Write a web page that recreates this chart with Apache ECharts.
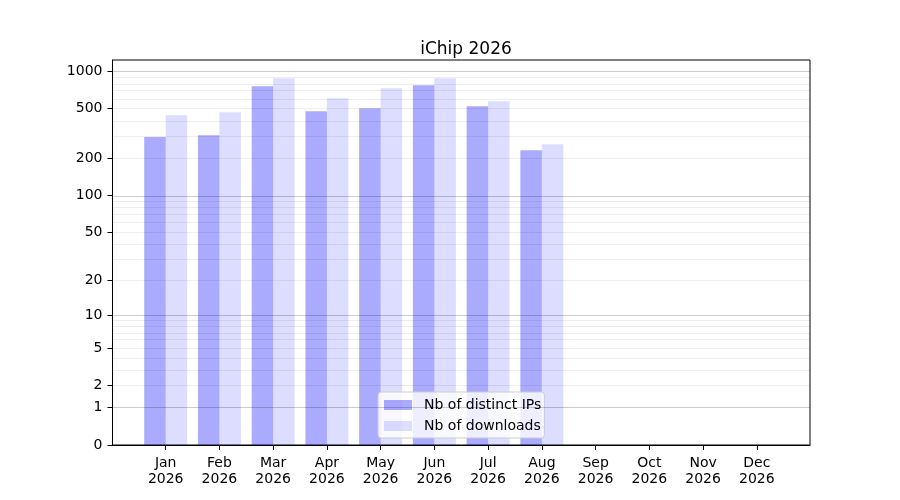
<!DOCTYPE html>
<head>
    <meta charset="utf-8">
    <title>iChip 2026</title>
    <style>
    html,body { height:100%; width:100%; margin:0; padding:0; background:#fff; }
    </style>
</head>
<body>
<div id="main" style="height:500px;width:900px;"></div>
<script src="https://cdn.jsdelivr.net/npm/echarts@6/dist/echarts.min.js"></script>
<script type="text/javascript">
    // data
    var months = ['Jan', 'Feb', 'Mar', 'Apr', 'May', 'Jun', 'Jul', 'Aug', 'Sep', 'Oct', 'Nov', 'Dec'];
    var year = '2026';
    var distinctIps = [296, 306, 758, 477, 505, 772, 524, 232, 0, 0, 0, 0];
    var downloads = [443, 468, 878, 607, 730, 878, 574, 259, 0, 0, 0, 0];
    var yTicks = [0, 1, 2, 5, 10, 20, 50, 100, 200, 500, 1000];
    var majorGrid = [1, 10, 100, 1000];
    var minorGrid = [2, 3, 4, 5, 6, 7, 8, 9, 20, 30, 40, 50, 60, 70, 80, 90,
                     200, 300, 400, 500, 600, 700, 800, 900];

    // y scale is log10(1 + x)
    function fwd(v) { return Math.log10(1 + v); }
    function inv(t) { return Math.round(Math.pow(10, t) - 1); }

    var font = 'DejaVu Sans';
    var gridLeft = 112.5, gridRight = 90, gridTop = 60, gridBottom = 55;
    var xMin = -0.99, xMax = 11.99;
    var pxPerUnit = (900 - gridLeft - gridRight) / (xMax - xMin);
    var barW = 0.4 * pxPerUnit;

    var allT = distinctIps.concat(downloads).map(fwd);
    var yMax = Math.max.apply(null, allT) * 1.05;

    var gridLines = [];
    minorGrid.forEach(function (v) {
        gridLines.push({ yAxis: fwd(v), lineStyle: { color: 'rgba(0,0,0,0.07)', width: 1, type: 'solid' } });
    });
    majorGrid.forEach(function (v) {
        gridLines.push({ yAxis: fwd(v), lineStyle: { color: 'rgba(0,0,0,0.2)', width: 1, type: 'solid' } });
    });

    var myChart = echarts.init(document.getElementById('main'));
    var options = {
        animation: false,
        backgroundColor: '#fff',
        title: {
            text: 'iChip ' + year,
            left: 461,
            textAlign: 'center',
            top: 36,
            textStyle: { fontFamily: font, fontSize: 17, fontWeight: 'normal', color: '#000' }
        },
        legend: {
            orient: 'vertical',
            left: 378,
            top: 392,
            icon: 'rect',
            itemWidth: 28,
            itemHeight: 10,
            itemGap: 7,
            padding: [6, 3, 5, 6],
            backgroundColor: 'rgba(255,255,255,0.8)',
            borderColor: '#cccccc',
            borderWidth: 1,
            borderRadius: 3,
            textStyle: { fontFamily: font, fontSize: 14, color: '#000', padding: [0, 0, 0, 7] },
            data: ['Nb of distinct IPs', 'Nb of downloads']
        },
        grid: {
            left: gridLeft, right: gridRight, top: gridTop, bottom: gridBottom,
            show: true, borderColor: '#000', borderWidth: 1, backgroundColor: 'transparent'
        },
        xAxis: {
            type: 'value',
            min: xMin,
            max: xMax,
            axisLine: { show: true, onZero: false, lineStyle: { color: '#000', width: 1 } },
            axisTick: { show: true, length: 5, lineStyle: { color: '#000' },
                        customValues: months.map(function (m, i) { return i; }) },
            axisLabel: {
                customValues: months.map(function (m, i) { return i; }),
                margin: 10,
                fontFamily: font, fontSize: 14, color: '#000', lineHeight: 16,
                formatter: function (v) { return months[Math.round(v)] + '\n' + year; }
            },
            splitLine: { show: false }
        },
        yAxis: {
            type: 'value',
            min: 0,
            max: yMax,
            axisLine: { show: true, onZero: false, lineStyle: { color: '#000', width: 1 } },
            axisTick: { show: true, length: 5, lineStyle: { color: '#000' },
                        customValues: yTicks.map(fwd) },
            axisLabel: {
                customValues: yTicks.map(fwd),
                margin: 10,
                fontFamily: font, fontSize: 14, color: '#000',
                formatter: function (v) { return String(inv(v)); }
            },
            splitLine: { show: false }
        },
        series: [
            {
                name: 'Nb of distinct IPs',
                type: 'bar',
                barWidth: barW,
                barGap: '0%',
                itemStyle: { color: 'rgba(0,0,255,0.333)' },
                data: distinctIps.map(function (v, i) { return [i, fwd(v)]; }),
                markLine: {
                    silent: true,
                    symbol: 'none',
                    label: { show: false },
                    data: gridLines
                }
            },
            {
                name: 'Nb of downloads',
                type: 'bar',
                barWidth: barW,
                barGap: '0%',
                itemStyle: { color: 'rgba(0,0,255,0.133)' },
                data: downloads.map(function (v, i) { return [i, fwd(v)]; })
            }
        ]
    };
    myChart.setOption(options);
</script>
</body>
